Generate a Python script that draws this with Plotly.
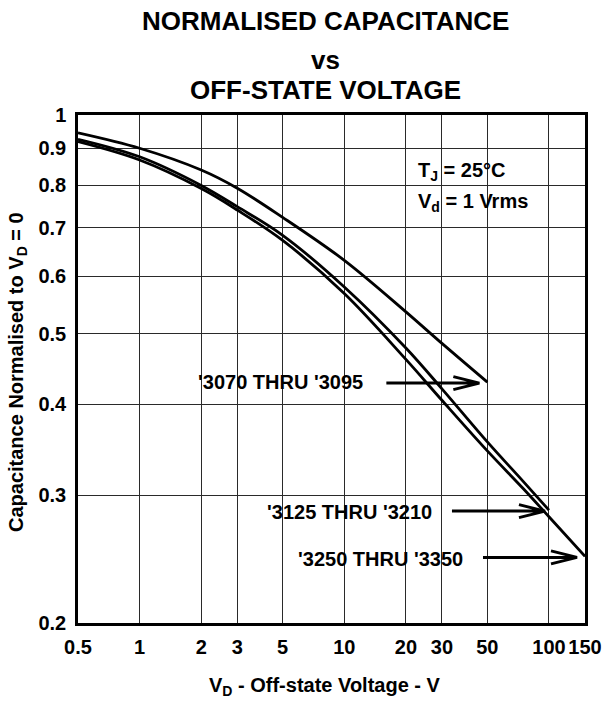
import math
import plotly.graph_objects as go

# ---------------- data ----------------
series_names = ["'3070 THRU '3095", "'3125 THRU '3210", "'3250 THRU '3350"]

voltage_3070 = [0.5, 1, 2, 3, 5, 10, 20, 30, 50]
cap_3070 = [0.945, 0.900, 0.840, 0.793, 0.723, 0.631, 0.536, 0.485, 0.429]

voltage_3125 = [0.5, 1, 2, 3, 5, 10, 20, 30, 50, 75, 100]
cap_3125 = [0.926, 0.876, 0.800, 0.748, 0.683, 0.580, 0.478, 0.420, 0.355, 0.313, 0.286]

voltage_3250 = [0.5, 1, 2, 3, 5, 10, 20, 30, 50, 75, 100, 150]
cap_3250 = [0.919, 0.867, 0.792, 0.740, 0.672, 0.568, 0.461, 0.405, 0.345, 0.306, 0.280, 0.247]

x_tick_vals = [0.5, 1, 2, 3, 5, 10, 20, 30, 50, 100, 150]
x_tick_text = ["0.5", "1", "2", "3", "5", "10", "20", "30", "50", "100", "150"]
y_tick_vals = [0.2, 0.3, 0.4, 0.5, 0.6, 0.7, 0.8, 0.9, 1]
y_tick_text = ["0.2", "0.3", "0.4", "0.5", "0.6", "0.7", "0.8", "0.9", "1"]

title_lines = ["NORMALISED CAPACITANCE", "vs", "OFF-STATE VOLTAGE"]
x_title = "V<sub>D</sub> - Off-state Voltage - V"
y_title = "Capacitance Normalised to V<sub>D</sub> = 0"
cond_lines = ["T<sub>J</sub> = 25°C", "V<sub>d</sub> = 1 Vrms"]

# ---------------- layout geometry (pixels) ----------------
W, H = 605, 701
PLOT_L, PLOT_R, PLOT_T, PLOT_B = 78, 585, 115, 623   # plot area
PW = PLOT_R - PLOT_L
PH = PLOT_B - PLOT_T
L, T = PLOT_L, PLOT_T
R = W - L - PW
B = H - T - PH
FONT = "Liberation Sans, Arial, Helvetica, sans-serif"


def pxx(p):
    return (p - PLOT_L) / PW


def pxy(p):
    return (PLOT_B - p) / PH


series = [
    (voltage_3070, cap_3070),
    (voltage_3125, cap_3125),
    (voltage_3250, cap_3250),
]

fig = go.Figure()
for name, (vx, cy) in zip(series_names, series):
    fig.add_trace(go.Scatter(
        x=vx, y=cy, mode="lines", name=name,
        line=dict(color="black", width=2.8, shape="spline", smoothing=1.0),
        showlegend=False, hoverinfo="skip",
    ))

axis_common = dict(
    showline=True, linecolor="black", linewidth=2.5, mirror=True,
    showgrid=True, gridcolor="#2a2a2a", gridwidth=1.4,
    ticks="", automargin=False,
    tickfont=dict(family=FONT, size=20, color="black", weight="bold"),
)

fig.update_xaxes(
    type="log", range=[math.log10(0.5), math.log10(150)],
    tickmode="array", tickvals=x_tick_vals, ticktext=x_tick_text,
    ticklabelstandoff=4, **axis_common,
)
fig.update_yaxes(
    type="log", range=[math.log10(0.2), math.log10(1)],
    tickmode="array", tickvals=y_tick_vals, ticktext=y_tick_text,
    ticklabelstandoff=5, **axis_common,
)

shapes = []
annotations = []

# white boxes behind texts (between gridlines and curves)
boxes = [
    (408, 547, 149.5, 226.5),   # conditions box
    (183, 383, 360, 406),       # label 1
    (252, 452, 487, 532),       # label 2
    (286, 483, 535, 580),       # label 3
]
for x0, x1, y0, y1 in boxes:
    shapes.append(dict(type="rect", xref="paper", yref="paper",
                       x0=pxx(x0), x1=pxx(x1), y0=pxy(y1), y1=pxy(y0),
                       fillcolor="white", line=dict(width=0), layer="between"))

# arrows pointing at the end of each curve (pixel offsets from curve end)
arrow_geom = [
    # (tail, tip, band start, band end, band layer)
    (-101, -8, -105, -11, "above"),
    (-97, -4, -97, -12, "between"),
    (-102, -8, -102, -8, "between"),
]
label_centers = [(280, 382), (349, 511.5), (380, 558.5)]

for (vx, cy), (tail, tip, b0, b1, blayer) in zip(series, arrow_geom):
    shapes.append(dict(type="rect", xref="x", yref="y",
                       xsizemode="pixel", ysizemode="pixel",
                       xanchor=vx[-1], yanchor=cy[-1],
                       x0=b0, x1=b1, y0=-8, y1=6,
                       fillcolor="white", line=dict(width=0), layer=blayer))
for (vx, cy), (tail, tip, b0, b1, blayer) in zip(series, arrow_geom):
    path = (f"M{tail},-1 L{tip},-1 "
            f"M{tip - 26},5.5 L{tip},-1 L{tip - 26},-7.5")
    shapes.append(dict(type="path", xref="x", yref="y",
                       xsizemode="pixel", ysizemode="pixel",
                       xanchor=vx[-1], yanchor=cy[-1], path=path,
                       line=dict(color="black", width=3), layer="above"))

for name, (cx, cyy) in zip(series_names, label_centers):
    annotations.append(dict(
        text=name, xref="paper", yref="paper", x=pxx(cx), y=pxy(cyy),
        xanchor="center", yanchor="middle", showarrow=False,
        font=dict(family=FONT, size=20, color="black", weight="bold")))

# conditions text
for line, yy in zip(cond_lines, [171.5, 202]):
    annotations.append(dict(
        text=line, xref="paper", yref="paper", x=pxx(416), y=pxy(yy),
        xanchor="left", yanchor="middle", showarrow=False,
        font=dict(family=FONT, size=20, color="black", weight="bold")))

# title
for line, yy in zip(title_lines, [20.5, 60, 89.5]):
    annotations.append(dict(
        text=line, xref="paper", yref="paper", x=pxx(325), y=pxy(yy),
        xanchor="center", yanchor="middle", showarrow=False,
        font=dict(family=FONT, size=26, color="black", weight="bold")))

# axis titles
annotations.append(dict(
    text=x_title, xref="paper", yref="paper", x=pxx(325), y=pxy(686),
    xanchor="center", yanchor="middle", showarrow=False,
    font=dict(family=FONT, size=20, color="black", weight="bold")))
annotations.append(dict(
    text=y_title, xref="paper", yref="paper", x=pxx(17), y=pxy(372),
    xanchor="center", yanchor="middle", showarrow=False, textangle=-90,
    font=dict(family=FONT, size=20, color="black", weight="bold")))

fig.update_layout(
    width=W, height=H, autosize=False,
    margin=dict(l=L, r=R, t=T, b=B),
    paper_bgcolor="white", plot_bgcolor="white",
    font=dict(family=FONT, color="black"),
    shapes=shapes, annotations=annotations,
    showlegend=False,
)

# remove the browser's default 8px page margin so the figure fills the window
fig.write_html(
    "out.html",
    config={"displayModeBar": False},
    post_script="document.body.style.margin='0';document.body.style.overflow='hidden';",
)
